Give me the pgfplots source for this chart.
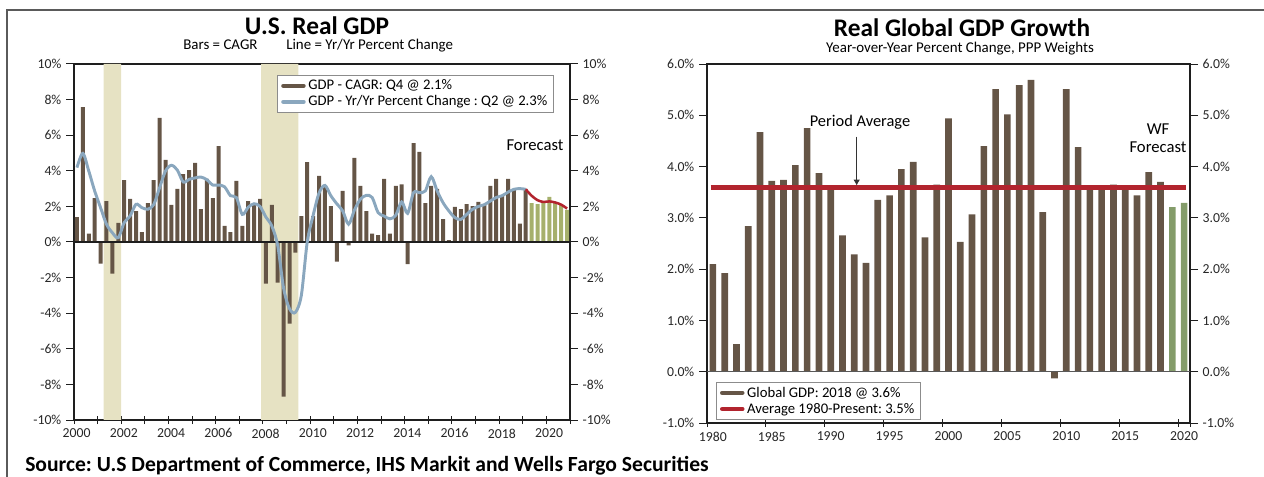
\documentclass[border=0pt]{standalone}
\usepackage{pgfplots}
\pgfplotsset{compat=1.18}
\usepackage{fontspec}
\setmainfont{Carlito}
\usetikzlibrary{arrows.meta}
\definecolor{brn}{RGB}{101,85,70}
\definecolor{olv}{RGB}{166,176,108}
\definecolor{grn}{RGB}{132,156,106}
\definecolor{blu}{RGB}{138,167,190}
\definecolor{rd}{RGB}{178,36,46}
\definecolor{shd}{RGB}{230,226,195}
\definecolor{frm}{RGB}{90,90,90}
\definecolor{axc}{RGB}{30,30,30}
\pgfplotsset{
  base/.style={scale only axis, axis line style={axc, line width=0.9bp},
    tick style={axc, line width=0.75bp}, major tick length=6bp, minor tick length=6bp,
    ticklabel style={font=\fontsize{10.3bp}{11bp}\selectfont, text=black!85}},
  ovl/.style={base, axis line style={draw=none}, xtick=\empty, tick align=outside},
  lgd/.style={legend style={at={#1}, anchor=north west, draw=black!45, line width=0.75bp,
    fill=white, font=\fontsize{11bp}{12.5bp}\selectfont, inner xsep=2.5bp, inner ysep=1.2bp,
    row sep=-1bp}, legend cell align=left},
}
\newcommand{\lgimg}[1]{\addlegendimage{legend image code/.code={\draw[#1,line width=3.4bp,line cap=round] (0bp,0bp) -- (15bp,0bp);}}}
\frenchspacing
\begin{document}
\begin{tikzpicture}
\useasboundingbox (0,0) rectangle (948bp,357.75bp);
\draw[frm, line width=1.1bp] (5.25bp,0) -- (5.25bp,350.25bp) -- (948bp,350.25bp);

% ---------------- Left chart ----------------
\begin{axis}[base, at={(55.5bp,42.75bp)}, anchor=south west, width=372bp, height=267bp,
  xmin=2000, xmax=2021, ymin=-10, ymax=10,
  tick align=center, xtick pos=bottom,
  xtick={2000,2002,2004,2006,2008,2010,2012,2014,2016,2018,2020},
  xticklabels={2000,2002,2004,2006,2008,2010,2012,2014,2016,2018,2020},
  minor xtick={2001,2003,2005,2007,2009,2011,2013,2015,2017,2019,2021},
  xticklabel style={xshift=2bp},
  ytick=\empty,
  lgd={(0.41,0.969)},
]
\addplot[fill=shd, draw=none, forget plot] coordinates {(2001.25,-10) (2002,-10) (2002,10) (2001.25,10) (2001.25,-10)};
\addplot[fill=shd, draw=none, forget plot] coordinates {(2007.92,-10) (2009.5,-10) (2009.5,10) (2007.92,10) (2007.92,-10)};
\addplot[ybar, bar width=3bp, bar shift=0pt, fill=brn, draw=none, forget plot] coordinates {
(2000.125,1.40) (2000.375,7.58) (2000.625,0.47) (2000.875,2.47)
(2001.125,-1.22) (2001.375,2.30) (2001.625,-1.78) (2001.875,1.07)
(2002.125,3.48) (2002.375,2.42) (2002.625,1.74) (2002.875,0.56)
(2003.125,2.19) (2003.375,3.48) (2003.625,6.97) (2003.875,4.61)
(2004.125,2.08) (2004.375,2.98) (2004.625,3.82) (2004.875,4.04)
(2005.125,4.44) (2005.375,1.85) (2005.625,3.54) (2005.875,2.47)
(2006.125,5.39) (2006.375,0.90) (2006.625,0.56) (2006.875,3.43)
(2007.125,0.90) (2007.375,2.30) (2007.625,2.08) (2007.875,2.42)
(2008.125,-2.34) (2008.375,2.08) (2008.625,-2.28) (2008.875,-8.69)
(2009.125,-4.59) (2009.375,-0.60) (2009.625,1.46) (2009.875,4.49)
(2010.125,1.46) (2010.375,3.71) (2010.625,3.15) (2010.875,2.02)
(2011.125,-1.10) (2011.375,2.87) (2011.625,-0.19) (2011.875,4.72)
(2012.125,3.15) (2012.375,1.74) (2012.625,0.47) (2012.875,0.39)
(2013.125,3.54) (2013.375,0.47) (2013.625,3.15) (2013.875,3.24)
(2014.125,-1.25) (2014.375,5.56) (2014.625,5.06) (2014.875,2.19)
(2015.125,3.15) (2015.375,2.98) (2015.625,1.29) (2015.875,0.11)
(2016.125,1.97) (2016.375,1.85) (2016.625,2.13) (2016.875,2.02)
(2017.125,2.25) (2017.375,2.13) (2017.625,3.15) (2017.875,3.54)
(2018.125,2.58) (2018.375,3.54) (2018.625,2.92) (2018.875,1.03)
(2019.125,2.98)};
\addplot[ybar, bar width=3bp, bar shift=0pt, fill=olv, draw=none, forget plot] coordinates {
(2019.375,2.19) (2019.625,2.13) (2019.875,2.19) (2020.125,2.53) (2020.375,2.19) (2020.625,2.08) (2020.875,1.80)};
\addplot[axc, line width=1.1bp, forget plot] coordinates {(2000,0) (2021,0)};
\addplot[blu, line width=2.2bp, smooth, forget plot] coordinates {
(2000.125,4.18) (2000.375,4.98) (2000.625,3.99) (2000.875,2.87)
(2001.125,1.93) (2001.375,1.00) (2001.625,0.52) (2001.875,0.24)
(2002.125,1.09) (2002.375,1.46) (2002.625,2.12) (2002.875,1.93)
(2003.125,1.84) (2003.375,2.10) (2003.625,3.05) (2003.875,3.99)
(2004.125,4.31) (2004.375,4.04) (2004.625,3.37) (2004.875,3.52)
(2005.125,3.60) (2005.375,3.65) (2005.625,3.50) (2005.875,3.20)
(2006.125,3.20) (2006.375,3.10) (2006.625,2.60) (2006.875,2.50)
(2007.125,1.55) (2007.375,1.95) (2007.625,2.15) (2007.875,2.00)
(2008.125,1.40) (2008.375,0.90) (2008.625,-0.20) (2008.875,-2.60)
(2009.125,-3.75) (2009.375,-3.95) (2009.625,-3.00) (2009.875,0.00)
(2010.125,1.50) (2010.375,2.75) (2010.625,3.18) (2010.875,2.60)
(2011.125,2.15) (2011.375,1.75) (2011.625,1.00) (2011.875,1.80)
(2012.125,2.40) (2012.375,2.62) (2012.625,2.50) (2012.875,1.65)
(2013.125,1.46) (2013.375,1.30) (2013.625,1.50) (2013.875,2.25)
(2014.125,1.61) (2014.375,2.77) (2014.625,2.77) (2014.875,2.87)
(2015.125,3.67) (2015.375,2.87) (2015.625,2.21) (2015.875,1.74)
(2016.125,1.37) (2016.375,1.27) (2016.625,1.55) (2016.875,1.84)
(2017.125,2.00) (2017.375,2.10) (2017.625,2.30) (2017.875,2.50)
(2018.125,2.60) (2018.375,2.80) (2018.625,2.96) (2018.875,3.00)
(2019.125,2.96)};
\addplot[rd, line width=1.9bp, smooth, forget plot] coordinates {
(2019.125,2.96) (2019.375,2.60) (2019.625,2.35) (2019.875,2.25) (2020.125,2.28) (2020.375,2.22) (2020.625,2.10) (2020.875,1.88)};
\lgimg{brn}
\addlegendentry{GDP - CAGR: Q4 @ 2.1\%}
\lgimg{blu}
\addlegendentry{GDP - Yr/Yr Percent Change : Q2 @ 2.3\%\hspace{12bp}}
\end{axis}
\begin{axis}[ovl, at={(55.5bp,42.75bp)}, anchor=south west, width=372bp, height=267bp,
  xmin=2000, xmax=2021, ymin=-10, ymax=10, ytick pos=left, yticklabel pos=left,
  ytick={-10,-8,...,10}, yticklabels={-10\%,-8\%,-6\%,-4\%,-2\%,0\%,2\%,4\%,6\%,8\%,10\%}]
\end{axis}
\begin{axis}[ovl, at={(55.5bp,42.75bp)}, anchor=south west, width=372bp, height=267bp,
  xmin=2000, xmax=2021, ymin=-10, ymax=10, ytick pos=right, yticklabel pos=right,
  ytick={-10,-8,...,10}, yticklabels={-10\%,-8\%,-6\%,-4\%,-2\%,0\%,2\%,4\%,6\%,8\%,10\%}]
\end{axis}

% ---------------- Right chart ----------------
\begin{axis}[base, at={(530.25bp,40.5bp)}, anchor=south west, width=362.25bp, height=269.25bp,
  xmin=1979.5, xmax=2020.5, ymin=-1, ymax=6,
  tick align=center, xtick pos=bottom,
  xtick={1979.5,1984.5,1989.5,1994.5,1999.5,2004.5,2009.5,2014.5,2019.5,2020.5},
  xticklabels={1980,1985,1990,1995,2000,2005,2010,2015,2020,{}},
  xticklabel style={xshift=4.4bp},
  ytick=\empty,
  lgd={(0.019,0.114)},
]
\addplot[ybar, bar width=5bp, bar shift=0pt, fill=brn, draw=none, forget plot] coordinates {
(1980,2.10) (1981,1.92) (1982,0.54) (1983,2.84) (1984,4.67) (1985,3.72) (1986,3.74)
(1987,4.03) (1988,4.75) (1989,3.87) (1990,3.60) (1991,2.66) (1992,2.29) (1993,2.12)
(1994,3.35) (1995,3.44) (1996,3.95) (1997,4.09) (1998,2.62) (1999,3.65) (2000,4.94)
(2001,2.53) (2002,3.07) (2003,4.40) (2004,5.51) (2005,5.02) (2006,5.59) (2007,5.69)
(2008,3.11) (2009,-0.13) (2010,5.51) (2011,4.38) (2012,3.59) (2013,3.59) (2014,3.65)
(2015,3.59) (2016,3.44) (2017,3.89) (2018,3.70)};
\addplot[ybar, bar width=5bp, bar shift=0pt, fill=grn, draw=none, forget plot] coordinates {
(2019,3.21) (2020,3.29)};
\addplot[black!65, line width=1.1bp, forget plot] coordinates {(1979.5,0) (2020.5,0)};
\addplot[rd, line width=3.3bp, forget plot] coordinates {(1979.8,3.59) (2020.2,3.59)};
\lgimg{brn}
\addlegendentry{Global GDP: 2018 @ 3.6\%}
\lgimg{rd}
\addlegendentry{Average 1980-Present: 3.5\%\hspace{6bp}}
\end{axis}
\begin{axis}[ovl, at={(530.25bp,40.5bp)}, anchor=south west, width=362.25bp, height=269.25bp,
  xmin=1979.5, xmax=2020.5, ymin=-1, ymax=6, ytick pos=left, yticklabel pos=left,
  ytick={-1,0,...,6}, yticklabels={-1.0\%,0.0\%,1.0\%,2.0\%,3.0\%,4.0\%,5.0\%,6.0\%}]
\end{axis}
\begin{axis}[ovl, at={(530.25bp,40.5bp)}, anchor=south west, width=362.25bp, height=269.25bp,
  xmin=1979.5, xmax=2020.5, ymin=-1, ymax=6, ytick pos=right, yticklabel pos=right,
  ytick={-1,0,...,6}, yticklabels={-1.0\%,0.0\%,1.0\%,2.0\%,3.0\%,4.0\%,5.0\%,6.0\%}]
\end{axis}

% ---------------- Texts ----------------
\node[anchor=base, inner sep=0pt, font=\bfseries\fontsize{19bp}{21bp}\selectfont] at (237.75bp,332bp) {U.S. Real GDP};
\node[anchor=base west, inner sep=0pt, font=\fontsize{11.2bp}{12bp}\selectfont] at (137.25bp,320.25bp) {Bars = CAGR};
\node[anchor=base west, inner sep=0pt, font=\fontsize{11.2bp}{12bp}\selectfont] at (214.5bp,320.25bp) {Line = Yr/Yr Percent Change};
\node[anchor=base, inner sep=0pt, font=\bfseries\fontsize{19bp}{21bp}\selectfont] at (721.5bp,330bp) {Real Global GDP Growth};
\node[anchor=base, inner sep=0pt, font=\fontsize{11.2bp}{12bp}\selectfont] at (720bp,318bp) {Year-over-Year Percent Change, PPP Weights};
\node[anchor=base, inner sep=0pt, font=\fontsize{12.5bp}{13bp}\selectfont] at (401.25bp,244.5bp) {Forecast};
\node[anchor=base, inner sep=0pt, font=\fontsize{12.3bp}{13bp}\selectfont] at (645bp,262.7bp) {Period Average};
\draw[black!80, line width=0.8bp, -{Latex[length=4.5bp,width=5bp]}] (642.5bp,255.2bp) -- (642.5bp,218.5bp);
\node[anchor=base, inner sep=0pt, font=\fontsize{12.5bp}{13bp}\selectfont] at (868.5bp,256.5bp) {WF};
\node[anchor=base, inner sep=0pt, font=\fontsize{12.5bp}{13bp}\selectfont] at (868.5bp,243bp) {Forecast};
\node[anchor=base west, inner sep=0pt, font=\bfseries\fontsize{16.2bp}{17bp}\selectfont] at (18.75bp,4.5bp) {Source: U.S Department of Commerce, IHS Markit and Wells Fargo Securities};
\end{tikzpicture}
\end{document}
